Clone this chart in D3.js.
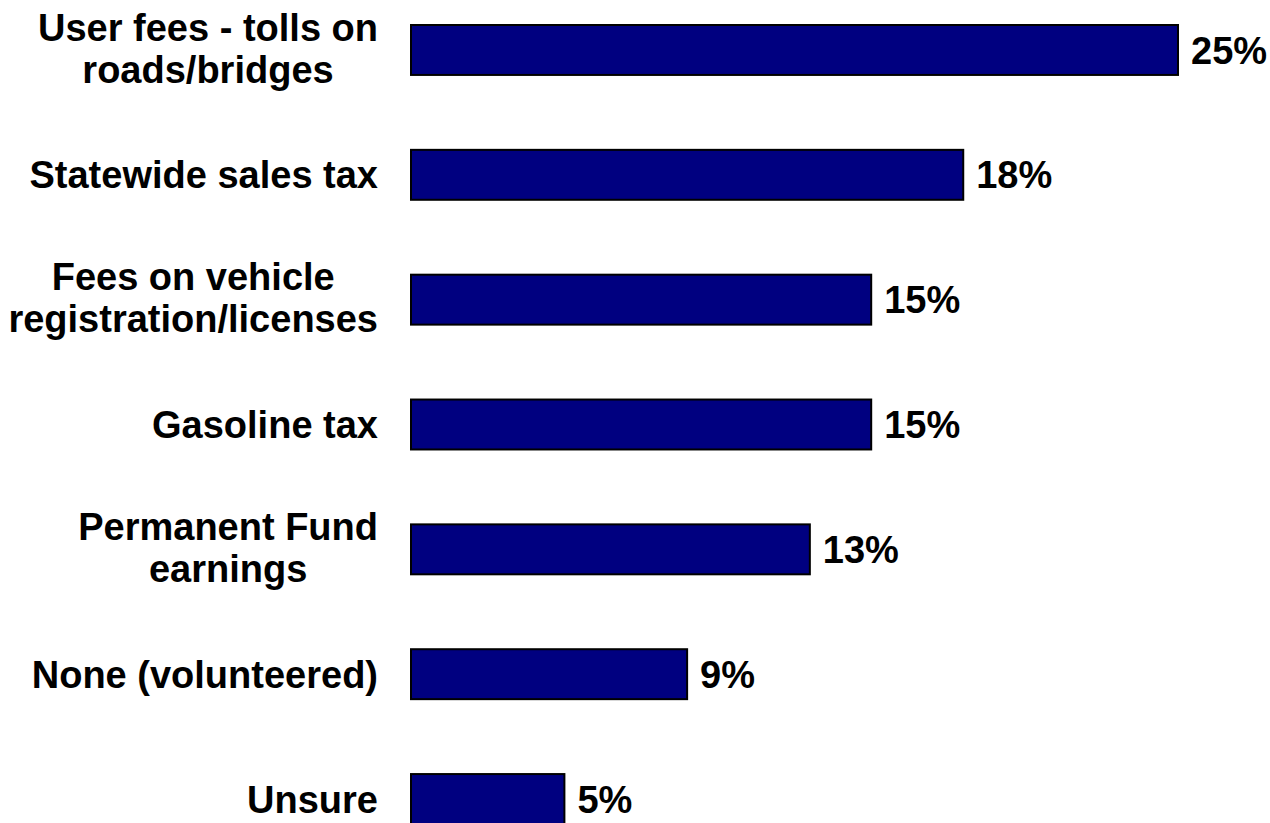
<!DOCTYPE html>
<html>
<head>
<meta charset="utf-8">
<script src="https://cdn.jsdelivr.net/npm/d3@7"></script>
<style>
    html, body { margin: 0; padding: 0; background: #ffffff; }
    svg { display: block; }
    text { font-family: "Liberation Sans", Arial, sans-serif; font-weight: bold; fill: #000; }
</style>
</head>
<body>
<div id="chart"></div>
<script>
// Categorias (linhas do rótulo separadas) e valores em %
const categories = [
    ["User fees - tolls on", "roads/bridges"],
    ["Statewide sales tax"],
    ["Fees on vehicle", "registration/licenses"],
    ["Gasoline tax"],
    ["Permanent Fund", "earnings"],
    ["None (volunteered)"],
    ["Unsure"]
];
const values = [25, 18, 15, 15, 13, 9, 5];

const data = categories.map((lines, i) => ({ key: lines.join(" "), lines: lines, value: values[i] }));

const width = 1270;
const height = 823;
const fontSize = 38;
const labelRight = 378;

const svg = d3.select("#chart")
    .append("svg")
    .attr("width", width)
    .attr("height", height);

// Escalas
const x = d3.scaleLinear()
    .domain([0, 25])
    .range([411, 1178]);

const y = d3.scaleBand()
    .domain(data.map(d => d.key))
    .range([25, 824])
    .paddingInner(0.6)
    .paddingOuter(0);

// Barras
svg.selectAll("rect.bar")
    .data(data)
    .enter()
    .append("rect")
    .attr("class", "bar")
    .attr("x", x(0))
    .attr("y", d => y(d.key))
    .attr("width", d => x(d.value) - x(0))
    .attr("height", y.bandwidth())
    .attr("fill", "#000080")
    .attr("stroke", "#000")
    .attr("stroke-width", 2);

// Valores
svg.selectAll("text.value")
    .data(data)
    .enter()
    .append("text")
    .attr("class", "value")
    .attr("x", d => x(d.value) + 13)
    .attr("y", d => y(d.key) + y.bandwidth() / 2)
    .attr("dy", "0.36em")
    .style("font-size", fontSize + "px")
    .text(d => d.value + "%");

// Rótulos das categorias (centrados entre si, alinhados à direita)
const lineHeight = 42;
svg.selectAll("g.label")
    .data(data)
    .enter()
    .append("g")
    .attr("class", "label")
    .each(function (d) {
        const g = d3.select(this);
        const cy = y(d.key) + y.bandwidth() / 2;
        const n = d.lines.length;
        const texts = d.lines.map((line, j) => g.append("text")
            .attr("y", cy + (j - (n - 1) / 2) * lineHeight - (n > 1 ? 2 : 0))
            .attr("dy", "0.36em")
            .attr("text-anchor", "middle")
            .style("font-size", fontSize + "px")
            .text(line));
        const maxW = d3.max(texts, t => t.node().getComputedTextLength());
        texts.forEach(t => t.attr("x", labelRight - maxW / 2));
    });
</script>
</body>
</html>
